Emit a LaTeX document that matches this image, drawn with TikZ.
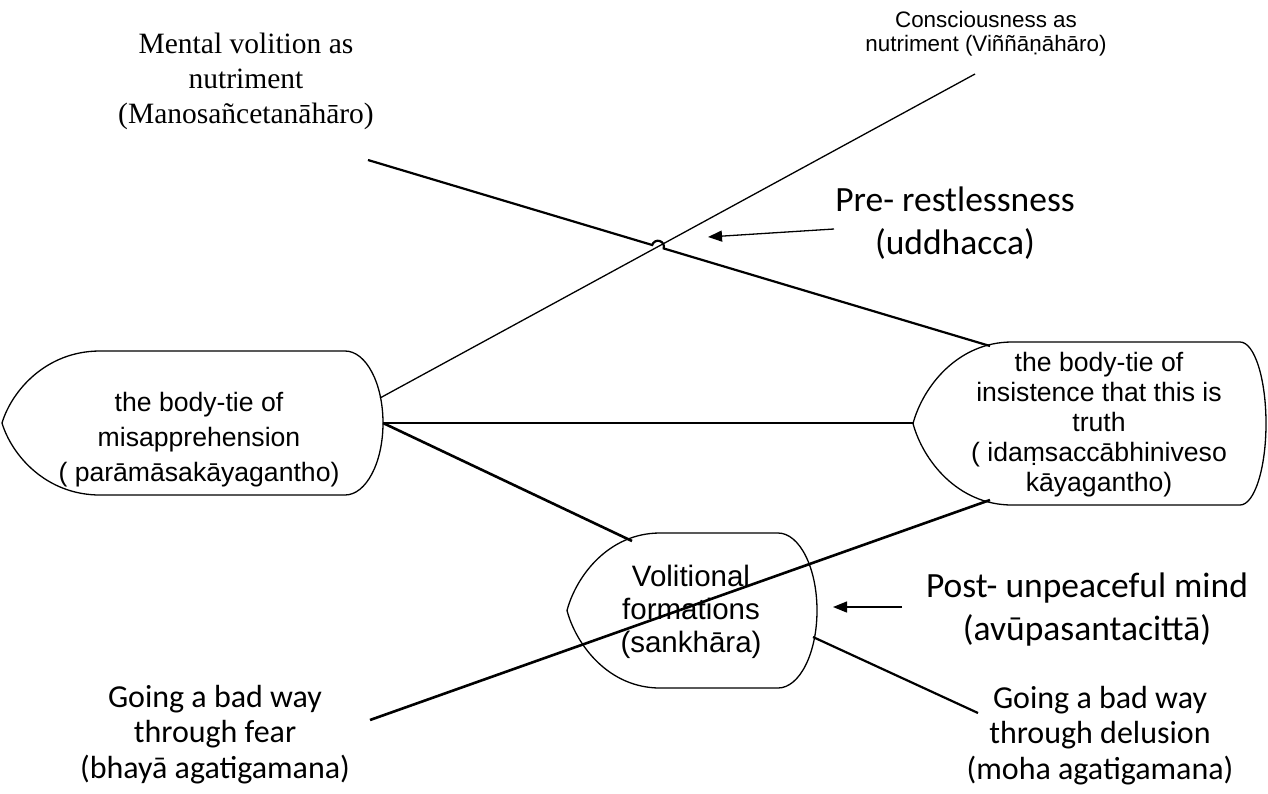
\documentclass[tikz,border=0pt]{standalone}
\usepackage{fontspec}
\setmainfont{Liberation Sans}
\newfontfamily\timesfont{Liberation Serif}
\newfontfamily\calfont{Carlito}
\usetikzlibrary{arrows.meta}

\begin{document}
\begin{tikzpicture}[x=1pt,y=-1pt,
  outline/.style={draw=black, line width=1.3pt, fill=white, line join=round},
  thinlink/.style={draw=black, line width=1.3pt},
  link/.style={draw=black, line width=2.2pt},
  heavylink/.style={draw=black, line width=2.6pt},
  pointer/.style={draw=black, line width=1.3pt, -{Triangle[length=14pt,width=11pt]}},
  lbl/.style={inner sep=0pt, align=center, anchor=north},
  sanslbl/.style={lbl, font=\fontsize{26.6}{30}\selectfont},
  seriflbl/.style={lbl, font=\timesfont\fontsize{29.5}{35}\selectfont},
  smalllbl/.style={lbl, font=\fontsize{22.4}{23.5}\selectfont},
  callbl/.style={lbl, font=\calfont\fontsize{35.5}{43}\selectfont},
  calsmall/.style={lbl, font=\calfont\fontsize{32}{35.5}\selectfont}
]
\useasboundingbox (0,0) rectangle (1268,793);

% --- display-shaped nodes ---
% misapprehension
\draw[outline] (2,423) .. controls (11.8,390.6) and (46.1,351) .. (100,351)
  -- (345,351) .. controls (366,351) and (383,383.2) .. (383,423)
  .. controls (383,462.8) and (366,495) .. (345,495)
  -- (100,495) .. controls (46.1,495) and (11.8,455.4) .. cycle;
% insistence that this is truth
\draw[outline] (913,423.5) .. controls (922.9,386.8) and (957.6,342) .. (1012,342)
  -- (1240,342) .. controls (1254.4,342) and (1266,378.5) .. (1266,423.5)
  .. controls (1266,468.5) and (1254.4,505) .. (1240,505)
  -- (1012,505) .. controls (957.6,505) and (922.9,460.2) .. cycle;
% volitional formations
\draw[outline] (567,610.5) .. controls (576.3,575.6) and (608.9,533) .. (660,533)
  -- (778,533) .. controls (799.5,533) and (817,567.7) .. (817,610.5)
  .. controls (817,653.3) and (799.5,688) .. (778,688)
  -- (660,688) .. controls (608.9,688) and (576.3,645.4) .. cycle;

% --- texts ---
\node[lbl, font=\fontsize{26.6}{35}\selectfont] (para) at (199,392) {the body-tie of\\misapprehension\\( parāmāsakāyagantho)};
\node[sanslbl] (idam) at (1099,352) {the body-tie of\\insistence that this is\\truth\\( idaṃsaccābhiniveso\\kāyagantho)};
\node[lbl, font=\fontsize{29.5}{33}\selectfont] (sank) at (691,565) {Volitional\\formations\\(sankhāra)};
\node[seriflbl] (mano) at (246,33) {Mental volition as\\nutriment\\(Manosañcetanāhāro)};
\node[smalllbl] (vinn) at (986,11.5) {Consciousness as\\nutriment (Viññāṇāhāro)};
\node[callbl] (uddh) at (955,187) {Pre- restlessness\\(uddhacca)};
\node[callbl] (avup) at (1087,573) {Post- unpeaceful mind\\(avūpasantacittā)};
\node[calsmall] (bhaya) at (215,685) {Going a bad way\\through fear\\(bhayā agatigamana)};
\node[calsmall] (moha) at (1100,686) {Going a bad way\\through delusion\\(moha agatigamana)};

% --- attachment points ---
\coordinate (A-ne) at (380,398);
\coordinate (A-e) at (383,423);
\coordinate (B-w) at (913,423);
\coordinate (B-nw) at (990,346);
\coordinate (B-sw) at (990,500);
\coordinate (C-nw) at (632,541);
\coordinate (C-se) at (813,637);
\coordinate (vinn-end) at (975,74);
\coordinate (mano-end) at (368,160);
\coordinate (bhaya-end) at (370,720);
\coordinate (moha-end) at (978,713);
\coordinate (hop-in) at (652.2,245.0);
\coordinate (uddh-tail) at (834,229);
\coordinate (uddh-tip) at (708,237);
\coordinate (avup-tail) at (902,607);
\coordinate (avup-tip) at (833,607);

% --- connectors ---
\draw[thinlink] (A-ne) -- (vinn-end);
\draw[link] (mano-end) -- (hop-in) arc[start angle=196.65, end angle=376.65, radius=6] -- (B-nw);
\draw[heavylink] (A-e) -- (B-w);
\draw[heavylink] (A-e) -- (C-nw);
\draw[heavylink] (bhaya-end) -- (B-sw);
\draw[link] (C-se) -- (moha-end);
\draw[pointer] (uddh-tail) -- (uddh-tip);
\draw[pointer] (avup-tail) -- (avup-tip);
\end{tikzpicture}
\end{document}
